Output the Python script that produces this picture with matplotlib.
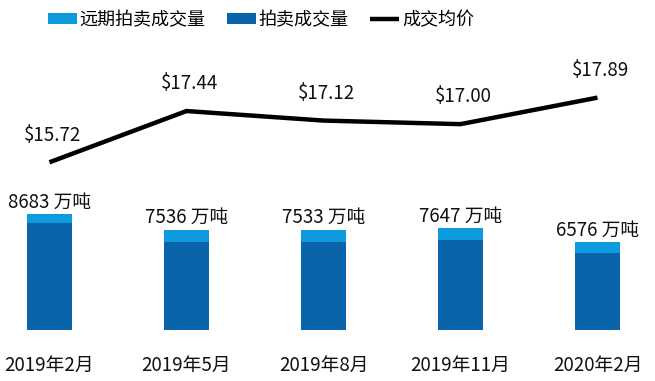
import matplotlib
matplotlib.use('Agg')
import matplotlib.pyplot as plt
import numpy as np

plt.rcParams['font.family'] = ['Noto Sans CJK SC', 'DejaVu Sans']

# data
periods = ['2019年2月', '2019年5月', '2019年8月', '2019年11月', '2020年2月']
total_vol = [8683, 7536, 7533, 7647, 6576]      # 万吨
forward_vol = [670, 915, 900, 890, 820]          # 远期拍卖成交量 (estimated)
avg_price = [15.72, 17.44, 17.12, 17.00, 17.89]  # 成交均价 $

current_vol = [t - f for t, f in zip(total_vol, forward_vol)]

light = '#0E9BDD'
dark = '#0A64AA'

fig = plt.figure(figsize=(6.55, 3.81), dpi=100)
ax = fig.add_axes([0, 0, 1, 1])
ax.set_xlim(-0.361, 4.42)
ax.set_ylim(-3817, 24754)
ax.axis('off')

x = np.arange(len(periods))
w = 0.33
ax.bar(x, current_vol, w, color=dark, label='拍卖成交量')
ax.bar(x, forward_vol, w, bottom=current_vol, color=light, label='远期拍卖成交量')

for i, t in enumerate(total_vol):
    ax.annotate('%d 万吨' % t, (i, t), xytext=(0, 1), textcoords='offset points',
                ha='center', va='bottom', fontsize=13.5, color='#111111')

for i, p in enumerate(periods):
    ax.text(i, 0.040, p, transform=ax.get_xaxis_transform(),
            ha='center', va='center', fontsize=13.5, color='#111111')

ax2 = ax.twinx()
ax2.set_ylim(8.381, 21.166)
ax2.axis('off')
ax2.plot(x, avg_price, color='black', lw=3.2, solid_capstyle='butt',
         label='成交均价')
for i, p in enumerate(avg_price):
    ax2.annotate('$%.2f' % p, (i, p), xytext=(2, 12), textcoords='offset points',
                 ha='center', va='bottom', fontsize=13.5, color='#111111')

h1, l1 = ax.get_legend_handles_labels()
h2, l2 = ax2.get_legend_handles_labels()
handles = [h1[1], h1[0], h2[0]]
labels = [l1[1], l1[0], l2[0]]
fig.legend(handles, labels, loc='center', bbox_to_anchor=(261 / 655, 1 - 20 / 381),
           ncol=3, frameon=False, fontsize=13, handlelength=1.6,
           handleheight=0.6, handletextpad=0.15, columnspacing=1.2)

fig.savefig('out.png', dpi=100)
